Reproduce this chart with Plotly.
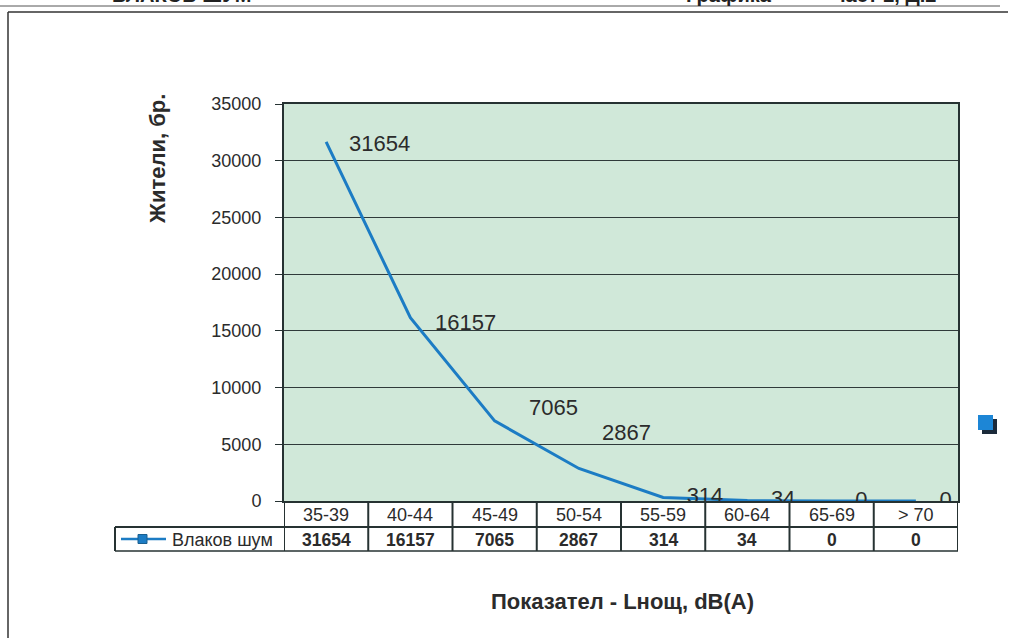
import plotly.graph_objects as go

# ---- data ----
categories = ["35-39", "40-44", "45-49", "50-54", "55-59", "60-64", "65-69", "> 70"]
values = [31654, 16157, 7065, 2867, 314, 34, 0, 0]
series_name = "Влаков шум"
y_ticks = [0, 5000, 10000, 15000, 20000, 25000, 30000, 35000]
y_title = "Жители, бр."
x_title = "Показател - Lнощ, dB(A)"
header_texts = ["ВЛАКОВ ШУМ", "Графика", "част 2, Д.2"]

# ---- geometry helpers (pixel -> paper) ----
W, H = 1012, 638
L, R, T, B = 284, 958, 104, 501
PW, PH = R - L, B - T
def px(x):
    return (x - L) / PW
def py(y):
    return (B - y) / PH

LINE_COLOR = "#1c7cc4"
TXT = "#2b2b2b"
FONT = "Liberation Sans, Arial, sans-serif"

fig = go.Figure()

# main line; low labels are clipped by the plot area like in the reference
low_text = [str(v) if i >= 4 else "" for i, v in enumerate(values)]
fig.add_trace(go.Scatter(
    x=categories, y=values, mode="lines+markers+text",
    line=dict(color=LINE_COLOR, width=3),
    marker=dict(size=36, color="rgba(0,0,0,0)", line=dict(width=0)),
    text=low_text, textposition="middle right",
    textfont=dict(family=FONT, size=22, color=TXT),
    cliponaxis=True, showlegend=False, name=series_name, hoverinfo="skip",
))

annotations = []
def ann(x, y, text, size, xanchor="center", yanchor="middle", xref="paper", yref="paper", **kw):
    annotations.append(dict(x=x, y=y, xref=xref, yref=yref, text=text, showarrow=False,
                            xanchor=xanchor, yanchor=yanchor,
                            font=dict(family=FONT, size=size, color=kw.pop("color", TXT)), **kw))

# data labels for the upper points
label_shift = [(21, -2), (23, -5), (32, 13), (21, 36)]
for i in range(4):
    dx, dy = label_shift[i]
    ann(categories[i], values[i], str(values[i]), 22, xanchor="left", xref="x", yref="y",
        xshift=dx, yshift=dy)

# data table
row1_top, row1_bot, row2_bot = 501, 527, 551
legend_left = 115
shapes = []
dark = "#263232"
shapes.append(dict(type="line", xref="paper", yref="paper", x0=px(legend_left), x1=px(R),
                   y0=py(row1_bot), y1=py(row1_bot), line=dict(color=dark, width=2)))
shapes.append(dict(type="line", xref="paper", yref="paper", x0=px(legend_left), x1=px(R),
                   y0=py(row2_bot), y1=py(row2_bot), line=dict(color=dark, width=1.5)))
for k in range(len(categories) + 1):
    shapes.append(dict(type="line", xref="x", yref="paper", x0=k - 0.5, x1=k - 0.5,
                       y0=py(row2_bot), y1=py(row1_top), line=dict(color=dark, width=2)))
shapes.append(dict(type="line", xref="paper", yref="paper", x0=px(legend_left), x1=px(legend_left),
                   y0=py(row2_bot), y1=py(row1_bot), line=dict(color=dark, width=2)))

for i, c in enumerate(categories):
    ann(c, py((row1_top + row1_bot) / 2 + 1), c, 18, xref="x")
    ann(c, py((row1_bot + row2_bot) / 2 + 1), "<b>" + str(values[i]) + "</b>", 17.5, xref="x")

# legend key inside the table
ly = py((row1_bot + row2_bot) / 2)
shapes.append(dict(type="line", xref="paper", yref="paper", x0=px(121), x1=px(166), y0=ly, y1=ly,
                   line=dict(color=LINE_COLOR, width=2.5)))
shapes.append(dict(type="rect", xref="paper", yref="paper", x0=px(138), x1=px(147),
                   y0=py(543.5), y1=py(534.5), line=dict(color="#1a5f8f", width=1), fillcolor=LINE_COLOR))
ann(px(170), py((row1_bot + row2_bot) / 2 + 1), series_name, 18, xanchor="left")

# legend square outside plot
shapes.append(dict(type="rect", xref="paper", yref="paper", x0=px(982), x1=px(997),
                   y0=py(434), y1=py(419), line=dict(width=0), fillcolor="#1b2a3a"))
shapes.append(dict(type="rect", xref="paper", yref="paper", x0=px(978), x1=px(993),
                   y0=py(430), y1=py(415), line=dict(width=0), fillcolor="#1d86d6"))

# outer frame and header line
shapes.append(dict(type="line", xref="paper", yref="paper", x0=px(8), x1=px(8),
                   y0=py(640), y1=py(12), line=dict(color="#333", width=1.5)))
shapes.append(dict(type="line", xref="paper", yref="paper", x0=px(8), x1=px(1008),
                   y0=py(12), y1=py(12), line=dict(color="#333", width=1.5)))
shapes.append(dict(type="line", xref="paper", yref="paper", x0=px(0), x1=px(1000),
                   y0=py(6), y1=py(6), line=dict(color="#555", width=1)))

# header texts (cut at the top)
for txt, xx in zip(header_texts, [110, 684, 832]):
    ann(px(xx), py(8), "<b>" + txt + "</b>", 20, xanchor="left", yanchor="bottom", color="#222")

# axis titles
ann(px(157), py(159), "<b>" + y_title + "</b>", 22, textangle=-90)
ann(px(622), py(601), "<b>" + x_title + "</b>", 22)

fig.update_layout(
    width=W, height=H,
    margin=dict(l=L, r=W - R, t=T, b=H - B, pad=0),
    paper_bgcolor="white", plot_bgcolor="#d0e8d9",
    showlegend=False,
    xaxis=dict(type="category", categoryorder="array", categoryarray=categories,
               range=[-0.5, len(categories) - 0.5], showticklabels=False, showgrid=False,
               zeroline=False, showline=True, linecolor=dark, linewidth=1.5, mirror=True, ticks=""),
    yaxis=dict(range=[0, 35000], tickvals=y_ticks, ticktext=[str(v) for v in y_ticks],
               ticks="outside", ticklen=7, tickcolor=dark,
               showgrid=True, gridcolor="#2f3a3a", gridwidth=1, zeroline=False,
               showline=True, linecolor=dark, linewidth=2, mirror=True,
               tickfont=dict(family=FONT, size=18, color=TXT), ticklabelstandoff=10),
    shapes=shapes, annotations=annotations,
)

fig.write_html("out.html", config={"displayModeBar": False},
               post_script="document.body.style.margin='0px';document.body.style.overflow='hidden';")
